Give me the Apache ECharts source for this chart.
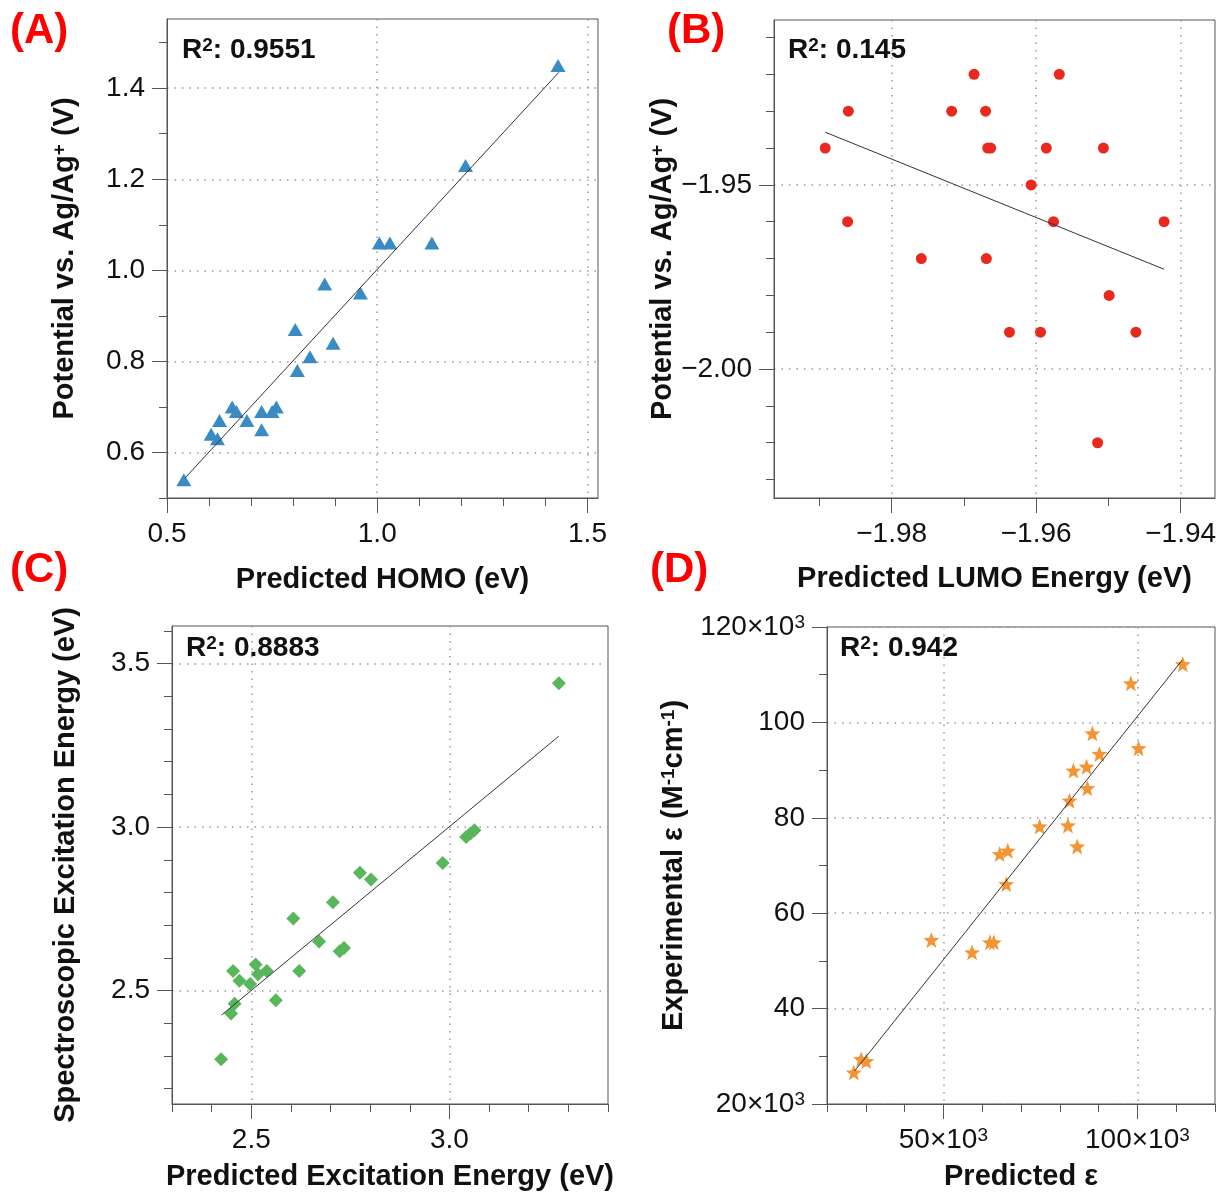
<!DOCTYPE html>
<html>
<head>
<meta charset="utf-8">
<script src="https://cdn.jsdelivr.net/npm/echarts@6.0.0/dist/echarts.min.js"></script>
<style>
html, body { margin: 0; padding: 0; background: #fff; }
#main { width: 1221px; height: 1200px; }
</style>
</head>
<body>
<div id="main"></div>
<script>
// (A) predicted HOMO vs potential
var homoPred = [1.43, 1.21, 1.005, 1.03, 1.13, 0.875, 0.96, 0.805, 0.895, 0.84, 0.81,
                0.655, 0.665, 0.625, 0.69, 0.725, 0.75, 0.76, 0.725, 0.605, 0.62, 0.54];
var homoExp  = [1.45, 1.23, 1.06, 1.06, 1.06, 0.97, 0.95, 0.87, 0.84, 0.81, 0.78,
                0.70, 0.69, 0.67, 0.67, 0.69, 0.69, 0.70, 0.65, 0.64, 0.63, 0.54];
var homoFit  = [[0.543, 0.544], [1.432, 1.435]];

// (B) predicted LUMO vs potential
var lumoPred = [-1.9686, -1.9568, -1.9860, -1.9717, -1.9670, -1.9892, -1.9667, -1.9663, -1.9586,
                -1.9507, -1.9607, -1.9861, -1.9576, -1.9423, -1.9759, -1.9669, -1.9499, -1.9637,
                -1.9594, -1.9462, -1.9515];
var lumoExp  = [-1.92, -1.92, -1.93, -1.93, -1.93, -1.94, -1.94, -1.94, -1.94,
                -1.94, -1.95, -1.96, -1.96, -1.96, -1.97, -1.97, -1.98, -1.99,
                -1.99, -1.99, -2.02];
var lumoFit  = [[-1.9892, -1.9357], [-1.9423, -1.9729]];

// (C) excitation energy
var excPred = [3.276, 3.042, 3.053, 3.063, 2.983, 2.774, 2.802, 2.706, 2.606, 2.671, 2.723, 2.734,
               2.621, 2.454, 2.511, 2.517, 2.539, 2.470, 2.497, 2.458, 2.449, 2.562, 2.424];
var excExp  = [3.44, 2.97, 2.98, 2.99, 2.89, 2.86, 2.84, 2.77, 2.72, 2.65, 2.62, 2.63,
               2.56, 2.56, 2.58, 2.55, 2.56, 2.53, 2.52, 2.46, 2.43, 2.47, 2.29];
var excFit  = [[2.425, 2.425], [3.276, 3.278]];

// (D) molar absorptivity
var epsPred = [111700, 98300, 88400, 100300, 90200, 86900, 83500, 87100, 82500, 74800, 82100,
               84500, 64500, 66600, 66200, 46900, 57400, 62000, 63000, 28800, 30100, 26900];
var epsExp  = [112200, 108200, 97700, 94600, 93400, 90700, 89900, 86200, 83600, 78200, 78400,
               74000, 72400, 73100, 66100, 54400, 51800, 53900, 53900, 29400, 29000, 26600];
var epsFit  = [[27100, 26900], [111500, 113000]];

var r2 = ['0.9551', '0.145', '0.8883', '0.942'];

// tick values (major = labelled)
var xMajorA = [0.5, 1.0, 1.5], xMinorA = [0.6, 0.7, 0.8, 0.9, 1.1, 1.2, 1.3, 1.4];
var yMajorA = [0.6, 0.8, 1.0, 1.2, 1.4], yMinorA = [0.5, 0.7, 0.9, 1.1, 1.3, 1.5];
var xMajorB = [-1.98, -1.96, -1.94], xMinorB = [-1.99, -1.97, -1.95];
var yMajorB = [-1.95, -2.00], yMinorB = [-1.91, -1.92, -1.93, -1.94, -1.96, -1.97, -1.98, -1.99, -2.01, -2.02, -2.03];
var xMajorC = [2.5, 3.0], xMinorC = [2.3, 2.4, 2.6, 2.7, 2.8, 2.9, 3.1, 3.2, 3.3, 3.4];
var yMajorC = [2.5, 3.0, 3.5], yMinorC = [2.2, 2.3, 2.4, 2.6, 2.7, 2.8, 2.9, 3.1, 3.2, 3.3, 3.4, 3.6];
var xMajorD = [50000, 100000], xMinorD = [20000, 30000, 40000, 60000, 70000, 80000, 90000, 110000, 120000];
var yMajorD = [20000, 40000, 60000, 80000, 100000, 120000], yMinorD = [30000, 50000, 70000, 90000, 110000];

var font = 'Liberation Sans, Arial, Helvetica, sans-serif';
var frame = '#555';
var ink = '#111';

function zip(a, b) {
  var out = [];
  for (var i = 0; i < a.length; i++) out.push([a[i], b[i]]);
  return out;
}
function minus(v, d) {
  return (v < 0 ? '\u2212' : '') + Math.abs(v).toFixed(d);
}
function fix1(v) { return v.toFixed(1); }
function fix2(v) { return minus(v, 2); }
function kilo(v) { return (v / 1000) + '\u00d710{s|3}'; }
function kiloEnds(v) { return (v === 20000 || v === 120000) ? kilo(v) : String(v / 1000); }

var supTick = { fontSize: 19, color: ink, fontFamily: font, verticalAlign: 'top' };
var nameStyle = {
  fontSize: 29, fontWeight: 'bold', color: ink, fontFamily: font,
  rich: { sup: { fontSize: 19, fontWeight: 'bold', color: ink, fontFamily: font, verticalAlign: 'top' } }
};

var grids = [], xAxes = [], yAxes = [], series = [], titles = [];

// two axes per side: labelled major ticks (+ dotted grid) and short minor ticks
function addAxes(list, gi, pos, range, major, minor, fmt, name, gap) {
  var idx = list.length;
  list.push({
    type: 'value', gridIndex: gi, position: pos, min: range[0], max: range[1],
    axisLine: { show: true, onZero: false, lineStyle: { color: frame, width: 1 } },
    axisTick: { show: true, length: 15, customValues: major, lineStyle: { color: frame, width: 1 } },
    axisLabel: { customValues: major, formatter: fmt, fontSize: 28, color: ink, margin: 22, fontFamily: font,
                 rich: { s: supTick } },
    splitLine: { show: true, lineStyle: { color: '#999', width: 1.5, type: [1.5, 6] } },
    name: name, nameLocation: 'middle', nameGap: gap, nameTextStyle: nameStyle
  });
  list.push({
    type: 'value', gridIndex: gi, position: pos, min: range[0], max: range[1],
    axisLine: { show: false, onZero: false },
    axisTick: { show: true, length: 8, customValues: minor, lineStyle: { color: frame, width: 1 } },
    axisLabel: { show: false },
    splitLine: { show: false }
  });
  return idx;
}

function addPanel(p) {
  var gi = grids.length;
  grids.push({ left: p.box[0], top: p.box[1], width: p.box[2], height: p.box[3],
               show: true, borderColor: frame, borderWidth: 1, backgroundColor: 'transparent' });
  var xi = addAxes(xAxes, gi, 'bottom', p.xr, p.xMaj, p.xMin, p.fx, p.xName, p.xGap);
  var yi = addAxes(yAxes, gi, 'left', p.yr, p.yMaj, p.yMin, p.fy, p.yName, p.yGap);
  series.push({
    type: 'scatter', xAxisIndex: xi, yAxisIndex: yi, data: zip(p.px, p.py),
    symbol: p.symbol, symbolSize: p.size, itemStyle: { color: p.color, opacity: 1 }, z: 3
  });
  series.push({
    type: 'line', xAxisIndex: xi, yAxisIndex: yi, data: p.fit, symbol: 'none', silent: true,
    lineStyle: { color: '#333', width: 1 }, z: 4
  });
  titles.push({
    text: p.letter, left: p.letterPos[0], top: p.letterPos[1], padding: 0,
    textStyle: { color: '#ff0000', fontSize: 42, fontWeight: 'bold', fontFamily: font }
  });
  titles.push({
    text: 'R{s|2}: ' + p.r2, left: p.r2Pos[0], top: p.r2Pos[1], padding: 0,
    textStyle: { color: ink, fontSize: 28, fontWeight: 'bold', fontFamily: font,
      rich: { s: { fontSize: 19, fontWeight: 'bold', color: ink, fontFamily: font, verticalAlign: 'top' } } }
  });
}

var star = 'path://M50 0 L62.34 33.01 L97.55 34.55 L69.97 56.49 L79.39 90.45 L50 71 L20.61 90.45 L30.03 56.49 L2.45 34.55 L37.66 33.01 Z';

addPanel({
  box: [167, 19, 431, 479], xr: [0.5, 1.525], yr: [0.5, 1.552],
  xMaj: xMajorA, xMin: xMinorA, yMaj: yMajorA, yMin: yMinorA, fx: fix1, fy: fix1,
  xName: 'Predicted HOMO (eV)', xGap: 67, yName: 'Potential vs. Ag/Ag{sup|+} (V)', yGap: 88,
  px: homoPred, py: homoExp, fit: homoFit, symbol: 'triangle', size: [15, 13], color: '#3a8bc4',
  letter: '(A)', letterPos: [10, 10], r2: r2[0], r2Pos: [182, 36]
});
addPanel({
  box: [774, 20, 441, 478], xr: [-1.99629, -1.93525], yr: [-2.035, -1.90524],
  xMaj: xMajorB, xMin: xMinorB, yMaj: yMajorB, yMin: yMinorB, fx: fix2, fy: fix2,
  xName: 'Predicted LUMO Energy (eV)', xGap: 66, yName: 'Potential vs. Ag/Ag{sup|+} (V)', yGap: 86,
  px: lumoPred, py: lumoExp, fit: lumoFit, symbol: 'circle', size: 11, color: '#e8291f',
  letter: '(B)', letterPos: [667, 10], r2: r2[1], r2Pos: [788, 36]
});
addPanel({
  box: [172, 626, 436, 478], xr: [2.3, 3.4], yr: [2.153, 3.615],
  xMaj: xMajorC, xMin: xMinorC, yMaj: yMajorC, yMin: yMinorC, fx: fix1, fy: fix1,
  xName: 'Predicted Excitation Energy (eV)', xGap: 58, yName: 'Spectroscopic Excitation Energy (eV)', yGap: 92,
  px: excPred, py: excExp, fit: excFit, symbol: 'diamond', size: 14, color: '#58b65b',
  letter: '(C)', letterPos: [10, 549], r2: r2[2], r2Pos: [186, 634]
});
addPanel({
  box: [827, 627, 388, 477], xr: [20000, 120000], yr: [20000, 120000],
  xMaj: xMajorD, xMin: xMinorD, yMaj: yMajorD, yMin: yMinorD, fx: kilo, fy: kiloEnds,
  xName: 'Predicted \u03b5', xGap: 58, yName: 'Experimental \u03b5 (M{sup|-1}cm{sup|-1})', yGap: 139,
  px: epsPred, py: epsExp, fit: epsFit, symbol: star, size: 16, color: '#f39534',
  letter: '(D)', letterPos: [650, 549], r2: r2[3], r2Pos: [840, 634]
});

var chart = echarts.init(document.getElementById('main'));
chart.setOption({
  backgroundColor: '#fff',
  animation: false,
  title: titles,
  grid: grids,
  xAxis: xAxes,
  yAxis: yAxes,
  series: series
});
</script>
</body>
</html>
